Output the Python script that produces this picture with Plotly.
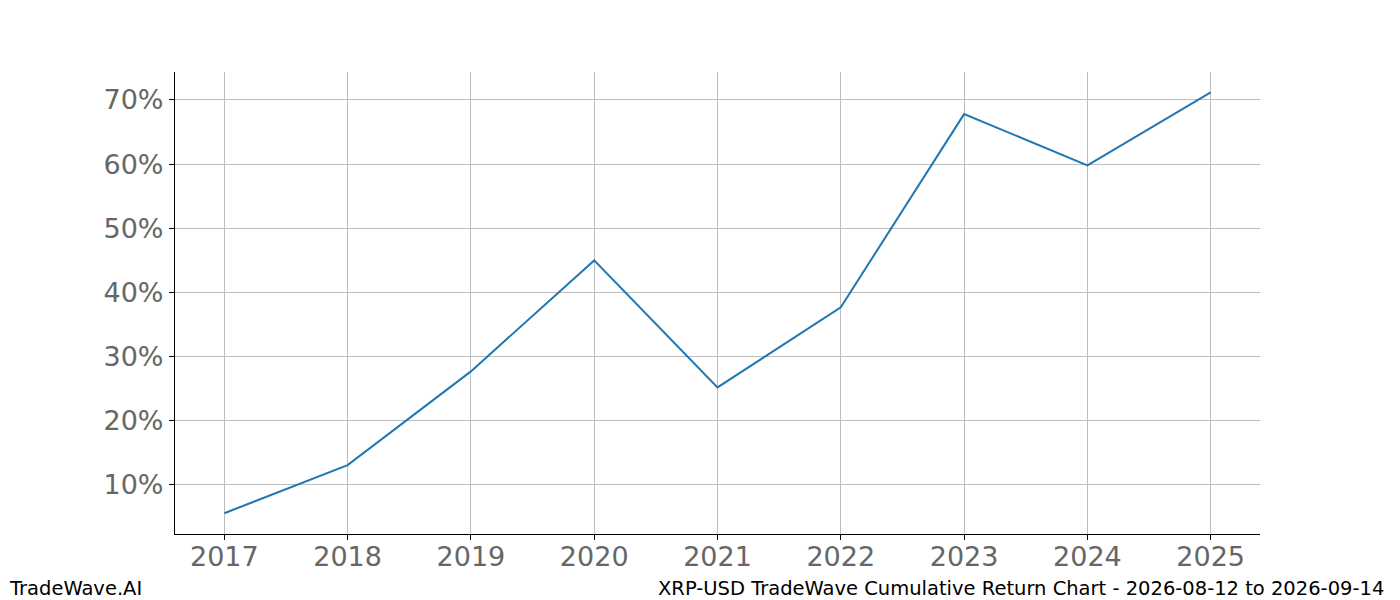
import plotly.graph_objects as go

years = [2017, 2018, 2019, 2020, 2021, 2022, 2023, 2024, 2025]
returns = [5.6, 13.1, 27.7, 45.0, 25.2, 37.7, 67.8, 59.8, 71.2]
yticks = [10, 20, 30, 40, 50, 60, 70]
ytick_labels = [f"{v}%" for v in yticks]

# page body has an 8px default margin; compensate
OFF = 8
L, R, T, B = 175 - OFF, 140, 72 - OFF, 66
W, H = 1400 - OFF, 600 - OFF
plot_w = W - L - R
plot_h = H - T - B

fig = go.Figure()
fig.add_trace(go.Scatter(x=years, y=returns, mode="lines",
                         line=dict(color="#1f77b4", width=2)))

fig.update_layout(
    width=W, height=H,
    margin=dict(l=L, r=R, t=T, b=B, autoexpand=False),
    plot_bgcolor="white", paper_bgcolor="white",
    showlegend=False,
    font=dict(family="DejaVu Sans"),
)
axis_common = dict(
    showgrid=True, gridcolor="#bdbdbd", gridwidth=0.8,
    showline=True, linecolor="black", linewidth=1.2,
    ticks="outside", ticklen=5, tickcolor="black",
    tickfont=dict(size=27, color="#666666"), zeroline=False,
    automargin=False,
)
fig.update_xaxes(range=[2016.6, 2025.4], tickmode="array", tickvals=years,
                 ticktext=[str(y) for y in years], ticklabelstandoff=-7,
                 **axis_common)
fig.update_yaxes(range=[2.36, 74.36], tickmode="array", tickvals=yticks,
                 ticktext=ytick_labels, **axis_common)

foot_y = -(588 - 534) / plot_h
fig.add_annotation(text="TradeWave.AI", xref="paper", yref="paper",
                   x=(7 - 175) / plot_w, y=foot_y, xanchor="left", yanchor="middle",
                   showarrow=False, font=dict(size=19.5, color="black"))
fig.add_annotation(text="XRP-USD TradeWave Cumulative Return Chart - 2026-08-12 to 2026-09-14",
                   xref="paper", yref="paper",
                   x=(1386 - 175) / plot_w, y=foot_y, xanchor="right", yanchor="middle",
                   showarrow=False, font=dict(size=19.5, color="black"))
fig.write_html("out.html")
